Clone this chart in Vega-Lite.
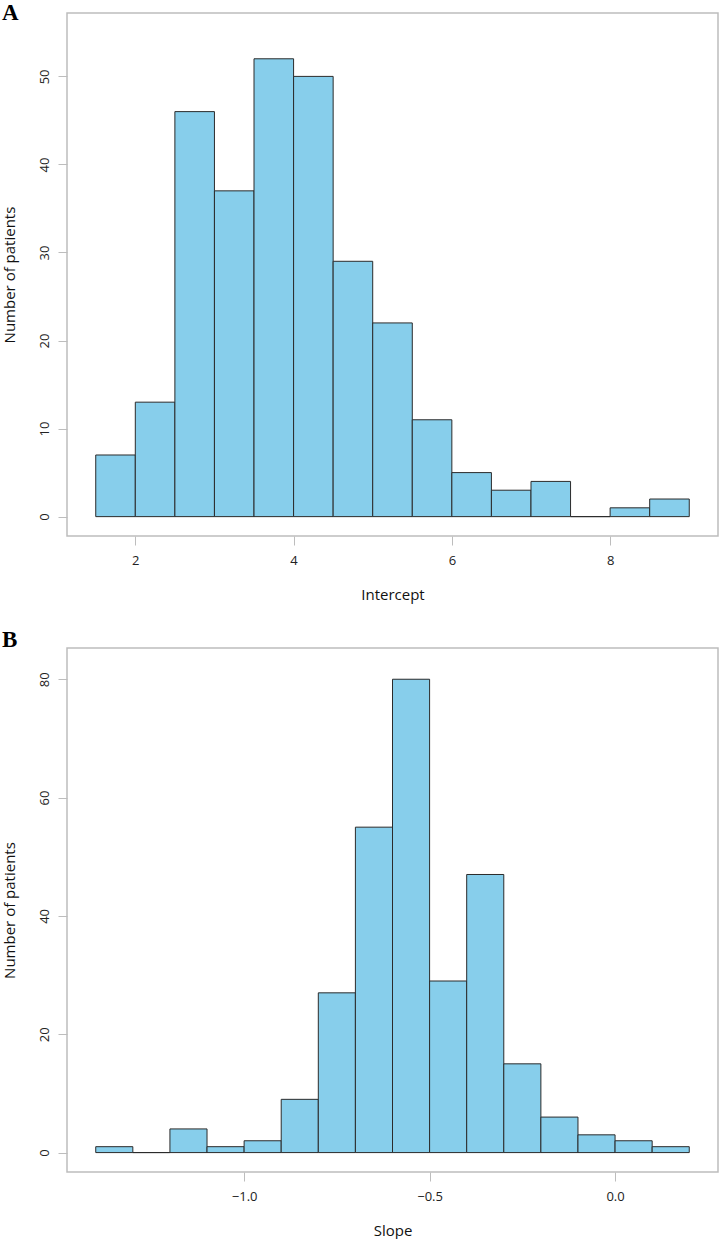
{
  "$schema": "https://vega.github.io/schema/vega-lite/v6.json",
  "background": "white",
  "padding": {"left": 1, "top": 1, "right": 0, "bottom": 0},
  "spacing": 25,
  "datasets": {
    "intercept": [
      {"bin_start": 1.5, "bin_end": 2.0, "count": 7},
      {"bin_start": 2.0, "bin_end": 2.5, "count": 13},
      {"bin_start": 2.5, "bin_end": 3.0, "count": 46},
      {"bin_start": 3.0, "bin_end": 3.5, "count": 37},
      {"bin_start": 3.5, "bin_end": 4.0, "count": 52},
      {"bin_start": 4.0, "bin_end": 4.5, "count": 50},
      {"bin_start": 4.5, "bin_end": 5.0, "count": 29},
      {"bin_start": 5.0, "bin_end": 5.5, "count": 22},
      {"bin_start": 5.5, "bin_end": 6.0, "count": 11},
      {"bin_start": 6.0, "bin_end": 6.5, "count": 5},
      {"bin_start": 6.5, "bin_end": 7.0, "count": 3},
      {"bin_start": 7.0, "bin_end": 7.5, "count": 4},
      {"bin_start": 7.5, "bin_end": 8.0, "count": 0},
      {"bin_start": 8.0, "bin_end": 8.5, "count": 1},
      {"bin_start": 8.5, "bin_end": 9.0, "count": 2}
    ],
    "slope": [
      {"bin_start": -1.4, "bin_end": -1.3, "count": 1},
      {"bin_start": -1.3, "bin_end": -1.2, "count": 0},
      {"bin_start": -1.2, "bin_end": -1.1, "count": 4},
      {"bin_start": -1.1, "bin_end": -1.0, "count": 1},
      {"bin_start": -1.0, "bin_end": -0.9, "count": 2},
      {"bin_start": -0.9, "bin_end": -0.8, "count": 9},
      {"bin_start": -0.8, "bin_end": -0.7, "count": 27},
      {"bin_start": -0.7, "bin_end": -0.6, "count": 55},
      {"bin_start": -0.6, "bin_end": -0.5, "count": 80},
      {"bin_start": -0.5, "bin_end": -0.4, "count": 29},
      {"bin_start": -0.4, "bin_end": -0.3, "count": 47},
      {"bin_start": -0.3, "bin_end": -0.2, "count": 15},
      {"bin_start": -0.2, "bin_end": -0.1, "count": 6},
      {"bin_start": -0.1, "bin_end": 0.0, "count": 3},
      {"bin_start": 0.0, "bin_end": 0.1, "count": 2},
      {"bin_start": 0.1, "bin_end": 0.2, "count": 1}
    ]
  },
  "vconcat": [
    {
      "width": 651,
      "height": 523,
      "data": {"name": "intercept"},
      "title": {"text": "A", "anchor": "start", "frame": "bounds", "font": "Liberation Serif", "fontSize": 23, "fontWeight": "bold", "color": "#000000", "baseline": "alphabetic", "offset": 0, "dy": 30},
      "mark": {"type": "bar", "fill": "#87CEEB", "stroke": "#2b2b2b", "strokeWidth": 1, "orient": "vertical"},
      "encoding": {
        "x": {"field": "bin_start", "type": "quantitative", "scale": {"domain": [1.2, 9.3], "nice": false, "zero": false},
              "axis": {"title": "Intercept", "values": [2, 4, 6, 8], "format": "d"}},
        "x2": {"field": "bin_end"},
        "y": {"field": "count", "type": "quantitative", "scale": {"domain": [-2.2, 57.2], "nice": false, "zero": false},
              "axis": {"title": "Number of patients", "values": [0, 10, 20, 30, 40, 50], "format": "d"}},
        "y2": {"datum": 0}
      }
    },
    {
      "width": 651,
      "height": 524,
      "data": {"name": "slope"},
      "title": {"text": "B", "anchor": "start", "frame": "bounds", "font": "Liberation Serif", "fontSize": 23, "fontWeight": "bold", "color": "#000000", "baseline": "alphabetic", "offset": 0, "dy": 22},
      "mark": {"type": "bar", "fill": "#87CEEB", "stroke": "#2b2b2b", "strokeWidth": 1, "orient": "vertical"},
      "encoding": {
        "x": {"field": "bin_start", "type": "quantitative", "scale": {"domain": [-1.464, 0.264], "nice": false, "zero": false},
              "axis": {"title": "Slope", "values": [-1.0, -0.5, 0.0], "format": ".1f"}},
        "x2": {"field": "bin_end"},
        "y": {"field": "count", "type": "quantitative", "scale": {"domain": [-3.28, 85.28], "nice": false, "zero": false},
              "axis": {"title": "Number of patients", "values": [0, 20, 40, 60, 80], "format": "d"}},
        "y2": {"datum": 0}
      }
    }
  ],
  "config": {
    "view": {"stroke": "#bdbdbd", "strokeWidth": 1.5},
    "font": "Open Sans",
    "axis": {
      "grid": false,
      "domain": false,
      "tickColor": "#bdbdbd",
      "tickSize": 9,
      "tickWidth": 1,
      "labelFont": "Open Sans",
      "labelFontSize": 13,
      "labelColor": "#222222",
      "titleFont": "Open Sans",
      "titleFontSize": 15,
      "titleFontWeight": "normal",
      "titleColor": "#111111"
    },
    "axisX": {"labelPadding": 9, "titlePadding": 20},
    "axisY": {"labelAngle": -90, "labelPadding": 7, "titlePadding": 21}
  }
}
